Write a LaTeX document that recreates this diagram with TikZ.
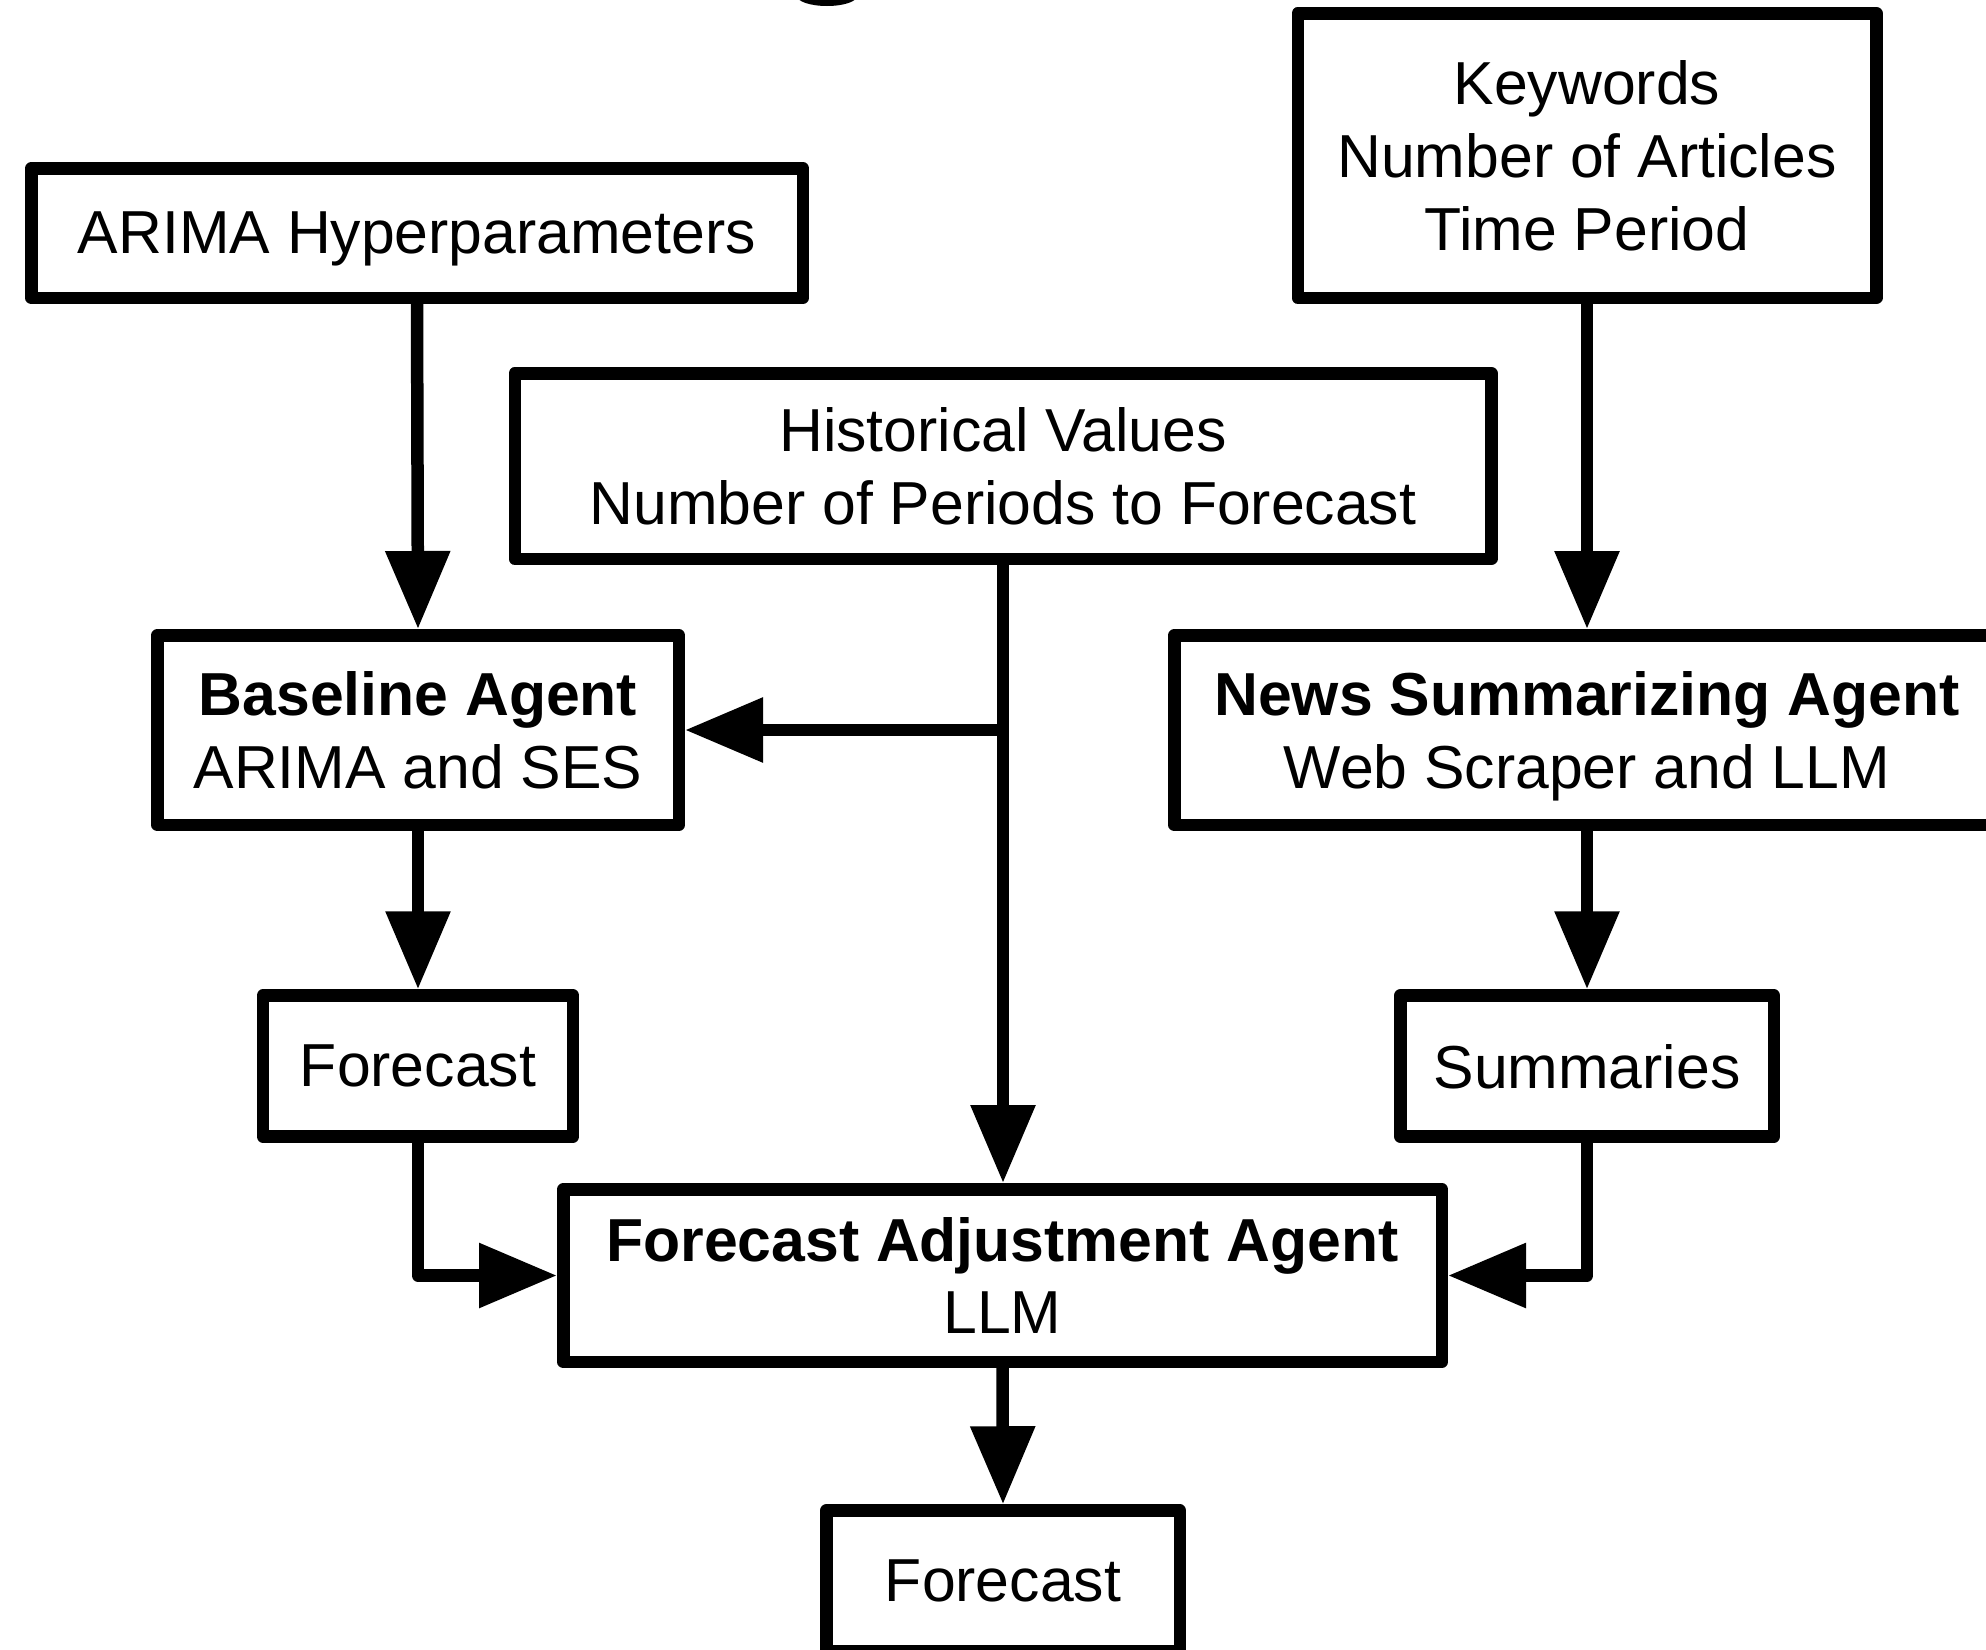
\documentclass[tikz,border=0pt]{standalone}
\usepackage{fontspec}
\setmainfont{Liberation Sans}
\usetikzlibrary{arrows.meta}
\tikzset{
  box/.style={draw=black, line width=12.5pt, line join=round, fill=white,
    inner sep=0pt, align=center, text depth=0pt,
    font=\fontsize{60.7}{72.8}\selectfont},
  conn/.style={draw=black, line width=12.5pt, line join=round,
    -{Triangle[length=78pt,width=62pt]}},
}
\begin{document}
\begin{tikzpicture}[x=1pt,y=-1pt]
\useasboundingbox (0,0) rectangle (1986,1649);
% fragment of a cut-off glyph at the top edge
\fill[black] (827,-4) ellipse [x radius=30, y radius=10];

\node[box, minimum width=771.5pt, minimum height=129.5pt] (arima) at (417,233) {ARIMA Hyperparameters};
\node[box, minimum width=578.5pt, minimum height=284.5pt] (kw) at (1587,155.5) {Keywords\\Number of Articles\\Time Period};
\node[box, minimum width=976.5pt, minimum height=185.5pt] (hist) at (1003,466) {Historical Values\\Number of Periods to Forecast};
\node[box, minimum width=521.5pt, minimum height=189.5pt] (base) at (418,730) {\textbf{Baseline Agent}\\ARIMA and SES};
\node[box, minimum width=825.5pt, minimum height=189.5pt] (news) at (1587,730) {\textbf{News Summarizing Agent}\\Web Scraper and LLM};
\node[box, minimum width=310pt, minimum height=141pt] (fc1) at (418,1066) {Forecast};
\node[box, minimum width=373.5pt, minimum height=141pt] (summ) at (1587,1066) {Summaries};
\node[box, minimum width=878.5pt, minimum height=172.5pt] (faa) at (1002.5,1275.5) {\textbf{Forecast Adjustment Agent}\\LLM};
\node[box, minimum width=353.5pt, minimum height=141pt] (fc2) at (1003,1581) {Forecast};

\coordinate (branch) at (hist.south |- base.east);

\draw[conn] (arima.south) -- (base.north);
\draw[conn] (kw.south) -- (news.north);
\draw[conn] (hist.south) -- (hist.south |- faa.north);
\draw[conn] (branch) -- (base.east);
\draw[conn] (base.south) -- (fc1.north);
\draw[conn] (news.south) -- (summ.north);
\draw[conn] (fc1.south) |- (faa.west);
\draw[conn] (summ.south) |- (faa.east);
\draw[conn] (faa.south) -- (fc2.north);
\end{tikzpicture}
\end{document}
